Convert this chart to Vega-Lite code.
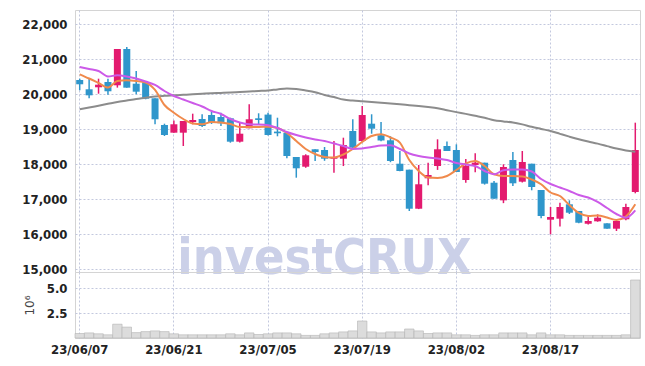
{
  "$schema": "https://vega.github.io/schema/vega-lite/v6.json",
  "padding": {"left": 21, "top": 9, "right": 9, "bottom": 0},
  "spacing": 0,
  "bounds": "flush",
  "config": {
    "view": {"stroke": "#d4d4d4"},
    "axis": {
      "labelFont": "DejaVu Sans Condensed",
      "labelFontSize": 13,
      "labelFontWeight": "bold",
      "labelColor": "#222222",
      "labelOverlap": false,
      "gridColor": "#c3c8de",
      "gridDash": [2, 2],
      "domain": false,
      "ticks": false,
      "labelPadding": 8
    },
    "axisY": {"labelOverlap": false},
    "axisQuantitative": {"labelOverlap": false}
  },
  "datasets": {
    "ohlc": [
      {"date":"23/06/07","open":20409,"high":20446,"low":20114,"close":20286,"volume":450000,"ma5":20571,"ma20":20780,"ma60":19571},
      {"date":"23/06/08","open":20143,"high":20457,"low":19886,"close":19971,"volume":510000,"ma5":20451,"ma20":20723,"ma60":19620},
      {"date":"23/06/09","open":20200,"high":20446,"low":20017,"close":20274,"volume":420000,"ma5":20323,"ma20":20666,"ma60":19674},
      {"date":"23/06/12","open":20351,"high":20446,"low":19989,"close":20086,"volume":320000,"ma5":20194,"ma20":20509,"ma60":19727},
      {"date":"23/06/13","open":20257,"high":21294,"low":20190,"close":21294,"volume":1380000,"ma5":20380,"ma20":20543,"ma60":19780},
      {"date":"23/06/14","open":21294,"high":21351,"low":20189,"close":20189,"volume":1090000,"ma5":20400,"ma20":20509,"ma60":19823},
      {"date":"23/06/15","open":20303,"high":20666,"low":20000,"close":20074,"volume":540000,"ma5":20380,"ma20":20451,"ma60":19866},
      {"date":"23/06/16","open":20343,"high":20343,"low":19857,"close":19874,"volume":640000,"ma5":20337,"ma20":20366,"ma60":19900},
      {"date":"23/06/19","open":19886,"high":19886,"low":19143,"close":19286,"volume":710000,"ma5":20123,"ma20":20266,"ma60":19937},
      {"date":"23/06/20","open":19123,"high":19160,"low":18809,"close":18837,"volume":640000,"ma5":19694,"ma20":20094,"ma60":19957},
      {"date":"23/06/21","open":18903,"high":19250,"low":18903,"close":19143,"volume":420000,"ma5":19474,"ma20":19951,"ma60":19971},
      {"date":"23/06/22","open":18903,"high":19237,"low":18523,"close":19237,"volume":320000,"ma5":19294,"ma20":19851,"ma60":19985},
      {"date":"23/06/23","open":19206,"high":19446,"low":19143,"close":19266,"volume":320000,"ma5":19166,"ma20":19751,"ma60":20000},
      {"date":"23/06/26","open":19294,"high":19429,"low":19066,"close":19094,"volume":320000,"ma5":19143,"ma20":19651,"ma60":20015},
      {"date":"23/06/27","open":19409,"high":19503,"low":19152,"close":19189,"volume":320000,"ma5":19209,"ma20":19523,"ma60":20030},
      {"date":"23/06/28","open":19351,"high":19474,"low":19094,"close":19171,"volume":320000,"ma5":19194,"ma20":19437,"ma60":20040},
      {"date":"23/06/29","open":19314,"high":19331,"low":18617,"close":18646,"volume":420000,"ma5":19151,"ma20":19294,"ma60":20051},
      {"date":"23/06/30","open":18646,"high":19189,"low":18620,"close":18874,"volume":320000,"ma5":19066,"ma20":19194,"ma60":20066},
      {"date":"23/07/03","open":19029,"high":19714,"low":19029,"close":19286,"volume":510000,"ma5":19066,"ma20":19143,"ma60":20080},
      {"date":"23/07/04","open":19314,"high":19457,"low":19143,"close":19266,"volume":350000,"ma5":19066,"ma20":19137,"ma60":20094},
      {"date":"23/07/05","open":19420,"high":19474,"low":18820,"close":18837,"volume":420000,"ma5":19074,"ma20":19114,"ma60":20109},
      {"date":"23/07/06","open":18934,"high":19331,"low":18800,"close":18886,"volume":510000,"ma5":19037,"ma20":19037,"ma60":20140},
      {"date":"23/07/07","open":18903,"high":18903,"low":18171,"close":18237,"volume":510000,"ma5":18894,"ma20":18923,"ma60":20166},
      {"date":"23/07/10","open":18209,"high":18209,"low":17617,"close":17886,"volume":420000,"ma5":18666,"ma20":18837,"ma60":20150},
      {"date":"23/07/11","open":17931,"high":18286,"low":17900,"close":18257,"volume":260000,"ma5":18437,"ma20":18766,"ma60":20110},
      {"date":"23/07/12","open":18429,"high":18429,"low":18094,"close":18351,"volume":260000,"ma5":18294,"ma20":18709,"ma60":20060},
      {"date":"23/07/13","open":18409,"high":18494,"low":18100,"close":18160,"volume":420000,"ma5":18209,"ma20":18666,"ma60":19980},
      {"date":"23/07/14","open":18160,"high":18667,"low":17760,"close":18209,"volume":510000,"ma5":18194,"ma20":18594,"ma60":19920},
      {"date":"23/07/17","open":18160,"high":18760,"low":17950,"close":18551,"volume":610000,"ma5":18280,"ma20":18523,"ma60":19850},
      {"date":"23/07/18","open":18951,"high":19286,"low":18474,"close":18474,"volume":710000,"ma5":18437,"ma20":18437,"ma60":19820},
      {"date":"23/07/19","open":18666,"high":19666,"low":18640,"close":19409,"volume":1700000,"ma5":18637,"ma20":18451,"ma60":19800},
      {"date":"23/07/20","open":19160,"high":19429,"low":18874,"close":19017,"volume":610000,"ma5":18809,"ma20":18494,"ma60":19780},
      {"date":"23/07/21","open":18830,"high":19210,"low":18660,"close":18680,"volume":510000,"ma5":18857,"ma20":18537,"ma60":19760},
      {"date":"23/07/24","open":18686,"high":18800,"low":18060,"close":18094,"volume":610000,"ma5":18766,"ma20":18543,"ma60":19740},
      {"date":"23/07/25","open":18017,"high":18380,"low":17800,"close":17809,"volume":610000,"ma5":18617,"ma20":18437,"ma60":19715},
      {"date":"23/07/26","open":17846,"high":17846,"low":16666,"close":16731,"volume":900000,"ma5":18123,"ma20":18309,"ma60":19690},
      {"date":"23/07/27","open":16731,"high":17980,"low":16720,"close":17429,"volume":710000,"ma5":17809,"ma20":18237,"ma60":19665},
      {"date":"23/07/28","open":17600,"high":18046,"low":17400,"close":17694,"volume":450000,"ma5":17623,"ma20":18194,"ma60":19635},
      {"date":"23/07/31","open":17951,"high":18714,"low":17840,"close":18429,"volume":510000,"ma5":17609,"ma20":18166,"ma60":19600},
      {"date":"23/08/01","open":18523,"high":18650,"low":18380,"close":18380,"volume":510000,"ma5":17666,"ma20":18123,"ma60":19545},
      {"date":"23/08/02","open":18409,"high":18571,"low":17780,"close":17780,"volume":320000,"ma5":17837,"ma20":18037,"ma60":19490},
      {"date":"23/08/03","open":17551,"high":18150,"low":17474,"close":17951,"volume":320000,"ma5":18023,"ma20":17994,"ma60":19440},
      {"date":"23/08/04","open":17980,"high":18314,"low":17770,"close":18046,"volume":260000,"ma5":18094,"ma20":17951,"ma60":19385},
      {"date":"23/08/07","open":18046,"high":18046,"low":17420,"close":17446,"volume":320000,"ma5":17951,"ma20":17809,"ma60":19330},
      {"date":"23/08/08","open":17474,"high":17523,"low":17017,"close":17017,"volume":320000,"ma5":17714,"ma20":17714,"ma60":19257},
      {"date":"23/08/09","open":16970,"high":18000,"low":16890,"close":17923,"volume":510000,"ma5":17666,"ma20":17829,"ma60":19225},
      {"date":"23/08/10","open":18123,"high":18351,"low":17380,"close":17457,"volume":510000,"ma5":17666,"ma20":17851,"ma60":19195},
      {"date":"23/08/11","open":17503,"high":18380,"low":17480,"close":18066,"volume":510000,"ma5":17651,"ma20":17851,"ma60":19140},
      {"date":"23/08/14","open":18017,"high":18017,"low":17257,"close":17351,"volume":320000,"ma5":17566,"ma20":17794,"ma60":19070},
      {"date":"23/08/16","open":17266,"high":17266,"low":16457,"close":16523,"volume":510000,"ma5":17429,"ma20":17580,"ma60":19010},
      {"date":"23/08/17","open":16417,"high":16780,"low":16000,"close":16494,"volume":320000,"ma5":17194,"ma20":17437,"ma60":18951},
      {"date":"23/08/18","open":16446,"high":16903,"low":16220,"close":16780,"volume":320000,"ma5":17094,"ma20":17337,"ma60":18870},
      {"date":"23/08/21","open":16857,"high":16971,"low":16580,"close":16617,"volume":260000,"ma5":16837,"ma20":17237,"ma60":18790},
      {"date":"23/08/22","open":16666,"high":16666,"low":16314,"close":16331,"volume":260000,"ma5":16609,"ma20":17123,"ma60":18715},
      {"date":"23/08/23","open":16303,"high":16551,"low":16280,"close":16380,"volume":260000,"ma5":16523,"ma20":17051,"ma60":18650},
      {"date":"23/08/24","open":16371,"high":16571,"low":16360,"close":16474,"volume":260000,"ma5":16537,"ma20":16923,"ma60":18590},
      {"date":"23/08/25","open":16314,"high":16314,"low":16160,"close":16160,"volume":260000,"ma5":16480,"ma20":16751,"ma60":18520},
      {"date":"23/08/28","open":16160,"high":16380,"low":16094,"close":16380,"volume":260000,"ma5":16409,"ma20":16580,"ma60":18450},
      {"date":"23/08/29","open":16429,"high":16874,"low":16400,"close":16780,"volume":320000,"ma5":16509,"ma20":16474,"ma60":18395},
      {"date":"23/08/30","open":17209,"high":19189,"low":17171,"close":18409,"volume":5800000,"ma5":16857,"ma20":16686,"ma60":18360}
    ]
  },
  "vconcat": [
    {
      "width": 565,
      "height": 262,
      "data": {"name": "ohlc"},
      "encoding": {
        "x": {
          "field": "date",
          "type": "ordinal",
          "sort": null,
          "scale": {"paddingInner": 0, "paddingOuter": 0},
          "axis": {
            "values": ["23/06/07", "23/06/21", "23/07/05", "23/07/19", "23/08/02", "23/08/17"],
            "labels": false,
            "labelPadding": 0,
            "minExtent": 0,
            "maxExtent": 0,
            "title": null,
            "grid": true
          }
        }
      },
      "layer": [
        {
          "mark": {"type": "rule", "strokeWidth": 1.5},
          "encoding": {
            "y": {
              "field": "low",
              "type": "quantitative",
              "scale": {"domain": [14923, 22408], "nice": false, "zero": false},
              "axis": {
                "tickCount": 8,
                "format": ",.0f",
                "labelOverlap": false,
                "labelSeparation": 0,
                "title": null,
                "grid": true
              }
            },
            "y2": {"field": "high"},
            "color": {"condition": {"test": "datum.close >= datum.open", "value": "#e31a6f"}, "value": "#2f96cb"}
          }
        },
        {
          "mark": {"type": "bar", "size": 7},
          "encoding": {
            "y": {"field": "open", "type": "quantitative"},
            "y2": {"field": "close"},
            "color": {"condition": {"test": "datum.close >= datum.open", "value": "#e31a6f"}, "value": "#2f96cb"}
          }
        },
        {
          "mark": {"type": "line", "strokeWidth": 2, "color": "#8c8c8c", "interpolate": "monotone"},
          "encoding": {"y": {"field": "ma60", "type": "quantitative"}}
        },
        {
          "mark": {"type": "line", "strokeWidth": 2, "color": "#f08a4c", "interpolate": "monotone"},
          "encoding": {"y": {"field": "ma5", "type": "quantitative"}}
        },
        {
          "mark": {"type": "line", "strokeWidth": 2, "color": "#cc5ae8", "interpolate": "monotone"},
          "encoding": {"y": {"field": "ma20", "type": "quantitative"}}
        },
        {
          "transform": [{"filter": "datum.date == '23/07/13'"}],
          "mark": {
            "type": "text",
            "font": "DejaVu Sans Condensed",
            "fontWeight": "bold",
            "fontSize": 50,
            "color": "#cbd0e8",
            "align": "center",
            "baseline": "alphabetic",
            "dy": 5
          },
          "encoding": {
            "y": {"datum": 15000, "type": "quantitative"},
            "text": {"value": "investCRUX"}
          }
        }
      ]
    },
    {
      "width": 565,
      "height": 66,
      "data": {"name": "ohlc"},
      "mark": {"type": "bar", "fill": "#dcdcdc", "stroke": "#b3b3b3", "strokeWidth": 0.6},
      "encoding": {
        "x": {
          "field": "date",
          "type": "ordinal",
          "sort": null,
          "scale": {"paddingInner": 0, "paddingOuter": 0},
          "axis": {
            "values": ["23/06/07", "23/06/21", "23/07/05", "23/07/19", "23/08/02", "23/08/17"],
            "labelAngle": 0,
            "labelPadding": 5,
            "title": null,
            "grid": true
          }
        },
        "y": {
          "field": "volume",
          "type": "quantitative",
          "scale": {"domain": [0, 6600000], "nice": false},
          "axis": {
            "values": [2500000, 5000000],
            "labelExpr": "format(datum.value / 1000000, '.1f')",
            "title": "10⁶",
            "titleFont": "DejaVu Sans",
            "titleFontWeight": "normal",
            "titleFontSize": 12,
            "titleColor": "#444444",
            "titlePadding": 10,
            "grid": true
          }
        }
      }
    }
  ]
}
